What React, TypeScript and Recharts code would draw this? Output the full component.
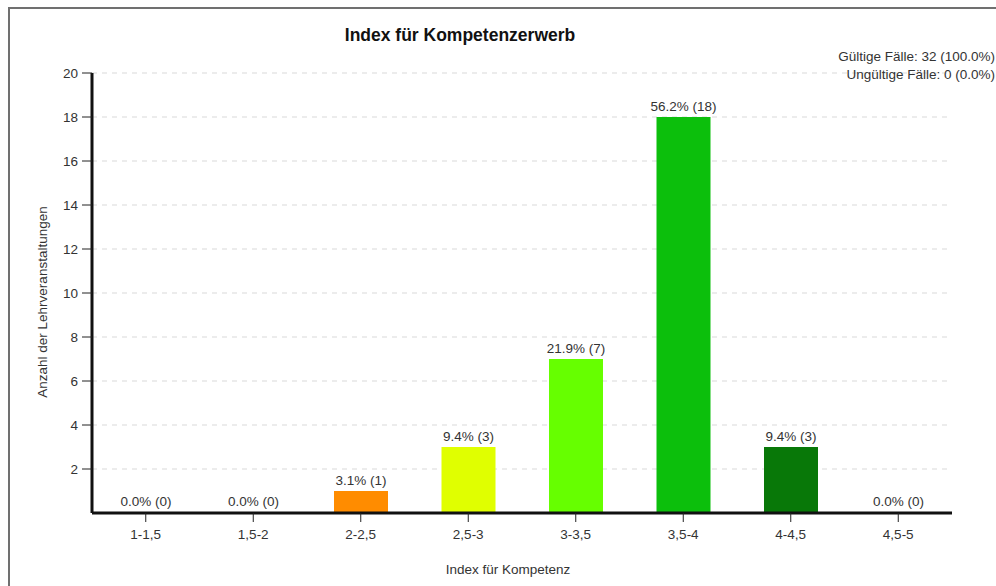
import React from "react"
import { BarChart, Bar, XAxis, YAxis, CartesianGrid, Cell, LabelList } from "recharts"

// data
const categories = ["1-1,5", "1,5-2", "2-2,5", "2,5-3", "3-3,5", "3,5-4", "4-4,5", "4,5-5"]
const counts = [0, 0, 1, 3, 7, 18, 3, 0]
const percents = [0.0, 0.0, 3.1, 9.4, 21.9, 56.2, 9.4, 0.0]
const barColors = ["#e00000", "#ff4500", "#ff8c00", "#e0ff00", "#66ff00", "#0cbf0c", "#087808", "#005a00"]
const yTicks = [2, 4, 6, 8, 10, 12, 14, 16, 18, 20]

const chartData = categories.map((c, i) => ({
  name: c,
  count: counts[i],
  label: `${percents[i].toFixed(1)}% (${counts[i]})`,
}))

const FONT = "'Liberation Sans', Arial, sans-serif"
const TXT = "#333"

// plain single-line label above the bar (default one wraps to bar width)
const BarLabel = (props: any) => {
  const { x, y, width, value } = props
  if (x == null || y == null) return null
  return (
    <text
      x={Number(x) + Number(width) / 2}
      y={Number(y) - 6}
      textAnchor="middle"
      fill={TXT}
      fontSize={13.5}
      fontFamily={FONT}
    >
      {value}
    </text>
  )
}

export default function App() {
  return (
    <div
      style={{
        position: "fixed",
        left: 0,
        top: 0,
        width: 996,
        height: 586,
        background: "#fff",
        overflow: "hidden",
        fontFamily: FONT,
      }}
    >
      {/* outer frame, only left and top edges are visible */}
      <div
        style={{
          position: "absolute",
          left: 8,
          top: 7,
          width: 1100,
          height: 700,
          borderLeft: "2px solid #707070",
          borderTop: "2px solid #707070",
        }}
      />

      <BarChart
        width={996}
        height={586}
        data={chartData}
        margin={{ top: 73, right: 44, bottom: 43, left: 32 }}
        style={{ position: "absolute", left: 0, top: 0 }}
      >
        <CartesianGrid vertical={false} stroke="#d9d9d9" strokeDasharray="5 5" />
        <XAxis
          dataKey="name"
          height={30}
          interval={0}
          tickSize={9}
          tickMargin={7}
          axisLine={{ stroke: "#111", strokeWidth: 3 }}
          tickLine={{ stroke: "#222", strokeWidth: 1 }}
          tick={{ fill: TXT, fontSize: 13.5, fontFamily: FONT }}
        />
        <YAxis
          width={60}
          domain={[0, 20]}
          ticks={yTicks}
          interval={0}
          tickSize={10}
          tickMargin={4}
          axisLine={{ stroke: "#111", strokeWidth: 3 }}
          tickLine={{ stroke: "#222", strokeWidth: 1 }}
          tick={{ fill: TXT, fontSize: 13.5, fontFamily: FONT }}
        />
        {/* minPointSize keeps the zero bars (hidden under the axis) so their labels still show */}
        <Bar dataKey="count" barSize={54} minPointSize={1} isAnimationActive={false}>
          {chartData.map((d, i) => (
            <Cell key={d.name} fill={d.count === 0 ? "transparent" : barColors[i]} />
          ))}
          <LabelList dataKey="label" content={<BarLabel />} />
        </Bar>
      </BarChart>

      <div
        style={{
          position: "absolute",
          left: 460,
          top: 25,
          transform: "translateX(-50%)",
          fontSize: 17.5,
          lineHeight: "20px",
          fontWeight: "bold",
          color: "#111",
          whiteSpace: "nowrap",
        }}
      >
        Index für Kompetenzerwerb
      </div>

      <div
        style={{
          position: "absolute",
          right: 1,
          top: 48,
          fontSize: 13.5,
          lineHeight: "18px",
          color: TXT,
          textAlign: "right",
          whiteSpace: "nowrap",
        }}
      >
        <div>Gültige Fälle: 32 (100.0%)</div>
        <div>Ungültige Fälle: 0 (0.0%)</div>
      </div>

      <div
        style={{
          position: "absolute",
          left: 43,
          top: 302,
          transform: "translate(-50%, -50%) rotate(-90deg)",
          fontSize: 13.5,
          lineHeight: "16px",
          color: TXT,
          whiteSpace: "nowrap",
        }}
      >
        Anzahl der Lehrveranstaltungen
      </div>

      <div
        style={{
          position: "absolute",
          left: 508,
          top: 570,
          transform: "translate(-50%, -50%)",
          fontSize: 13.5,
          lineHeight: "16px",
          color: TXT,
          whiteSpace: "nowrap",
        }}
      >
        Index für Kompetenz
      </div>
    </div>
  )
}
